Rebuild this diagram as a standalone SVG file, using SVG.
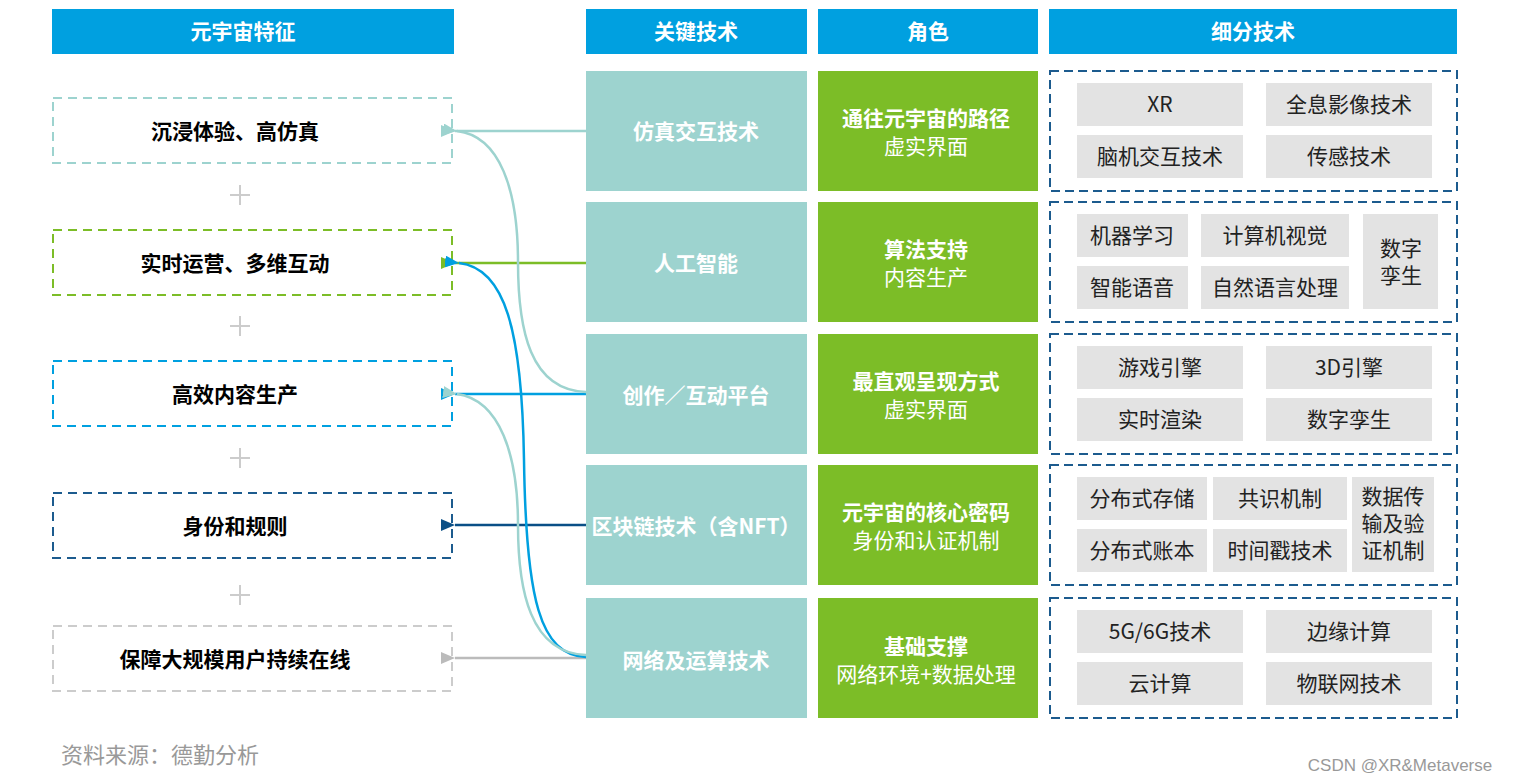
<svg xmlns="http://www.w3.org/2000/svg" width="1515" height="782" viewBox="0 0 1515 782">
<style>
text{font-family:"Noto Sans CJK SC","Noto Sans",sans-serif;text-anchor:middle}
.h{fill:#00a0e0}.ht{fill:#fff;font-size:21px;font-weight:bold}
.f{fill:#fff;stroke-width:2;stroke-dasharray:9,6}
.ft{font-size:21px;font-weight:bold;fill:#000}
.k{fill:#9dd3cf}.kt{fill:#fff;font-size:21px;font-weight:bold}
.r{fill:#7cbd27}.rt{fill:#fff;font-size:21px;font-weight:bold}.rs{fill:#fff;font-size:21px}
.d{fill:none;stroke:#1c5b8e;stroke-width:2;stroke-dasharray:9,5}
.g{fill:#e3e3e3}.gt{font-size:21px;fill:#222}
.p{stroke:#ccc;stroke-width:2}
.c{fill:none;stroke-width:2.5}
</style>
<defs>
<marker id="a1" viewBox="0 0 14 12" refX="0" refY="6" markerUnits="userSpaceOnUse" markerWidth="14" markerHeight="12" orient="auto"><path d="M14,0L0,6L14,12z" fill="#9dd3cf"/></marker>
<marker id="a2" viewBox="0 0 14 12" refX="0" refY="6" markerUnits="userSpaceOnUse" markerWidth="14" markerHeight="12" orient="auto"><path d="M14,0L0,6L14,12z" fill="#7cbd27"/></marker>
<marker id="a3" viewBox="0 0 14 12" refX="0" refY="6" markerUnits="userSpaceOnUse" markerWidth="14" markerHeight="12" orient="auto"><path d="M14,0L0,6L14,12z" fill="#00a0e0"/></marker>
<marker id="a4" viewBox="0 0 14 12" refX="0" refY="6" markerUnits="userSpaceOnUse" markerWidth="14" markerHeight="12" orient="auto"><path d="M14,0L0,6L14,12z" fill="#0a4f86"/></marker>
<marker id="a5" viewBox="0 0 14 12" refX="0" refY="6" markerUnits="userSpaceOnUse" markerWidth="14" markerHeight="12" orient="auto"><path d="M14,0L0,6L14,12z" fill="#bbb"/></marker>
</defs>
<rect width="1515" height="782" fill="#fff"/>
<g id="headers">
<rect class="h" x="52" y="9" width="402" height="45"/><text class="ht" x="243" y="39">元宇宙特征</text>
<rect class="h" x="586" y="9" width="221" height="45"/><text class="ht" x="696" y="39">关键技术</text>
<rect class="h" x="818" y="9" width="220" height="45"/><text class="ht" x="928" y="39">角色</text>
<rect class="h" x="1049" y="9" width="408" height="45"/><text class="ht" x="1253" y="39">细分技术</text>
</g>
<g id="features">
<g id="f1"><rect class="f" x="53" y="98" width="399" height="65" stroke="#9dd3cf"/><text class="ft" x="235" y="139">沉浸体验、高仿真</text></g>
<g id="f2"><rect class="f" x="53" y="230" width="399" height="65" stroke="#7cbd27"/><text class="ft" x="235" y="271">实时运营、多维互动</text></g>
<g id="f3"><rect class="f" x="53" y="361" width="399" height="65" stroke="#00a0e0"/><text class="ft" x="235" y="402">高效内容生产</text></g>
<g id="f4"><rect class="f" x="53" y="493" width="399" height="65" stroke="#1c5b8e"/><text class="ft" x="235" y="534">身份和规则</text></g>
<g id="f5"><rect class="f" x="53" y="626" width="399" height="65" stroke="#ccc"/><text class="ft" x="235" y="667">保障大规模用户持续在线</text></g>
<g id="plus"><path class="p" d="M230,195h20M240,185v20M230,326h20M240,316v20M230,458h20M240,448v20M230,595h20M240,585v20"/></g>
</g>
<g id="keytech">
<g id="k1"><rect class="k" x="586" y="71" width="221" height="120"/><text class="kt" x="696" y="139">仿真交互技术</text></g>
<g id="k2"><rect class="k" x="586" y="202" width="221" height="120"/><text class="kt" x="696" y="271">人工智能</text></g>
<g id="k3"><rect class="k" x="586" y="334" width="221" height="120"/><text class="kt" x="696" y="403">创作／互动平台</text></g>
<g id="k4"><rect class="k" x="586" y="465" width="221" height="120"/><text class="kt" x="696" y="534">区块链技术（含NFT）</text></g>
<g id="k5"><rect class="k" x="586" y="598" width="221" height="120"/><text class="kt" x="696" y="668">网络及运算技术</text></g>
</g>
<g id="roles">
<g id="r1"><rect class="r" x="818" y="71" width="220" height="120"/><text class="rt" x="926" y="126">通往元宇宙的路径</text><text class="rs" x="926" y="154">虚实界面</text></g>
<g id="r2"><rect class="r" x="818" y="202" width="220" height="120"/><text class="rt" x="926" y="257">算法支持</text><text class="rs" x="926" y="285">内容生产</text></g>
<g id="r3"><rect class="r" x="818" y="334" width="220" height="120"/><text class="rt" x="926" y="389">最直观呈现方式</text><text class="rs" x="926" y="417">虚实界面</text></g>
<g id="r4"><rect class="r" x="818" y="465" width="220" height="120"/><text class="rt" x="926" y="520">元宇宙的核心密码</text><text class="rs" x="926" y="548">身份和认证机制</text></g>
<g id="r5"><rect class="r" x="818" y="598" width="220" height="120"/><text class="rt" x="926" y="654">基础支撑</text><text class="rs" x="926" y="682">网络环境+数据处理</text></g>
</g>
<g id="sub">
<rect class="d" x="1050" y="71" width="407" height="120"/>
<rect class="g" x="1077" y="83" width="166" height="43"/><text class="gt" x="1160" y="112">XR</text>
<rect class="g" x="1266" y="83" width="166" height="43"/><text class="gt" x="1349" y="112">全息影像技术</text>
<rect class="g" x="1077" y="135" width="166" height="43"/><text class="gt" x="1160" y="164">脑机交互技术</text>
<rect class="g" x="1266" y="135" width="166" height="43"/><text class="gt" x="1349" y="164">传感技术</text>
<rect class="d" x="1050" y="202" width="407" height="120"/>
<rect class="g" x="1077" y="214" width="111" height="43"/><text class="gt" x="1132" y="243">机器学习</text>
<rect class="g" x="1201" y="214" width="148" height="43"/><text class="gt" x="1275" y="243">计算机视觉</text>
<rect class="g" x="1363" y="214" width="75" height="95"/><text class="gt" x="1401" y="256">数字</text><text class="gt" x="1401" y="283">孪生</text>
<rect class="g" x="1077" y="266" width="111" height="43"/><text class="gt" x="1132" y="295">智能语音</text>
<rect class="g" x="1201" y="266" width="148" height="43"/><text class="gt" x="1275" y="295">自然语言处理</text>
<rect class="d" x="1050" y="334" width="407" height="120"/>
<rect class="g" x="1077" y="346" width="166" height="43"/><text class="gt" x="1160" y="375">游戏引擎</text>
<rect class="g" x="1266" y="346" width="166" height="43"/><text class="gt" x="1349" y="375">3D引擎</text>
<rect class="g" x="1077" y="398" width="166" height="43"/><text class="gt" x="1160" y="427">实时渲染</text>
<rect class="g" x="1266" y="398" width="166" height="43"/><text class="gt" x="1349" y="427">数字孪生</text>
<rect class="d" x="1050" y="465" width="407" height="120"/>
<rect class="g" x="1077" y="477" width="130" height="43"/><text class="gt" x="1142" y="506">分布式存储</text>
<rect class="g" x="1213" y="477" width="134" height="43"/><text class="gt" x="1280" y="506">共识机制</text>
<rect class="g" x="1352" y="477" width="82" height="95"/><text class="gt" x="1393" y="504">数据传</text><text class="gt" x="1393" y="531">输及验</text><text class="gt" x="1393" y="558">证机制</text>
<rect class="g" x="1077" y="529" width="130" height="43"/><text class="gt" x="1142" y="558">分布式账本</text>
<rect class="g" x="1213" y="529" width="134" height="43"/><text class="gt" x="1280" y="558">时间戳技术</text>
<rect class="d" x="1050" y="598" width="407" height="120"/>
<rect class="g" x="1077" y="610" width="166" height="43"/><text class="gt" x="1160" y="639">5G/6G技术</text>
<rect class="g" x="1266" y="610" width="166" height="43"/><text class="gt" x="1349" y="639">边缘计算</text>
<rect class="g" x="1077" y="662" width="166" height="43"/><text class="gt" x="1160" y="691">云计算</text>
<rect class="g" x="1266" y="662" width="166" height="43"/><text class="gt" x="1349" y="691">物联网技术</text>
</g>
<g id="connectors">
<path class="c" stroke="#9dd3cf" d="M586,131H455" marker-end="url(#a1)"/>
<path class="c" stroke="#7cbd27" d="M586,263H455" marker-end="url(#a2)"/>
<path class="c" stroke="#00a0e0" d="M586,394H455" marker-end="url(#a3)"/>
<path class="c" stroke="#0a4f86" d="M586,525H455" marker-end="url(#a4)"/>
<path class="c" stroke="#bbb" d="M586,658H455" marker-end="url(#a5)"/>
<path class="c" stroke="#9dd3cf" d="M586,392C530,390 518,330 518,262C518,190 500,136 457,131" marker-end="url(#a1)"/>
<path class="c" stroke="#00a0e0" d="M586,657C540,655 526,600 524,460C522,330 505,268 459,263" marker-end="url(#a3)"/>
<path class="c" stroke="#9dd3cf" d="M586,655C530,653 518,590 518,525C518,455 500,400 457,394" marker-end="url(#a1)"/>
</g>
<text x="160" y="763" style="font-size:22px;fill:#999">资料来源：德勤分析</text>
<text x="1400" y="771" style="font-size:17px;fill:#999;font-family:'Liberation Sans',sans-serif">CSDN @XR&amp;Metaverse</text>
</svg>
